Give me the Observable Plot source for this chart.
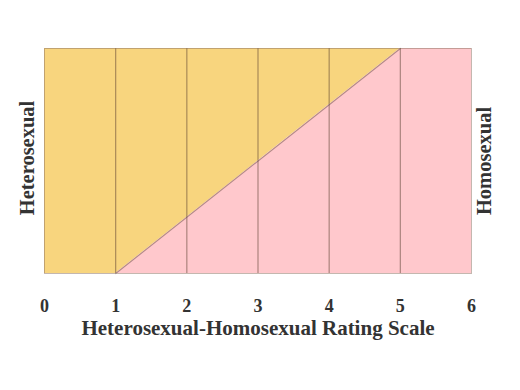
<!DOCTYPE html>
<html>
<head>
<meta charset="utf-8">
<script src="https://cdn.jsdelivr.net/npm/d3@7"></script>
<script src="https://cdn.jsdelivr.net/npm/@observablehq/plot@0.6"></script>
<style>
  html, body { margin: 0; padding: 0; background: #fff; }
  #chart svg { display: block; }
</style>
</head>
<body>
<div id="chart"></div>
<script>
// Kinsey scale ratings
const ratings = [0, 1, 2, 3, 4, 5, 6];
const dividers = [1, 2, 3, 4, 5];
// boundary between heterosexual (above) and homosexual (below) share
const boundaryX = [0, 1, 5, 6];
const boundaryY = [0, 0, 1, 1];
const axisTitle = "Heterosexual-Homosexual Rating Scale";
const leftLabel = "Heterosexual";
const rightLabel = "Homosexual";

const boundary = boundaryX.map((x, i) => ({x, y: boundaryY[i]}));
const font = "'Liberation Serif', 'Times New Roman', serif";

const chart = Plot.plot({
  width: 520,
  height: 390,
  marginLeft: 44,
  marginRight: 49,
  marginTop: 48,
  marginBottom: 117,
  style: {fontFamily: font, background: "#fff"},
  x: {domain: [0, 6]},
  y: {domain: [0, 1], axis: null},
  marks: [
    Plot.areaY(boundary, {x: "x", y1: "y", y2: 1, fill: "#f8d57e"}),
    Plot.areaY(boundary, {x: "x", y1: 0, y2: "y", fill: "#ffc8cc"}),
    Plot.line(boundary.slice(1, 3), {x: "x", y: "y", stroke: "#5a4030", strokeOpacity: 0.45, strokeWidth: 1.2}),
    Plot.ruleX(dividers, {y1: 0, y2: 1, stroke: "#5a4030", strokeOpacity: 0.5, strokeWidth: 1.2}),
    Plot.frame({stroke: "#8a7060", strokeOpacity: 0.5}),
    Plot.axisX(ratings, {ticks: ratings, tickSize: 0, tickPadding: 26, fontSize: 18, fontWeight: "bold", fill: "#333", label: null, tickFormat: d => String(d)}),
    Plot.text([axisTitle], {x: 3, y: 0, text: d => d, dy: 55, fontSize: 21, fontWeight: "bold", fill: "#333", lineAnchor: "middle"}),
    Plot.text([leftLabel], {x: 0, y: 0.5, text: d => d, rotate: -90, dx: -17, dy: -3, fontSize: 20.5, fontWeight: "bold", fill: "#333", lineAnchor: "middle"}),
    Plot.text([rightLabel], {x: 6, y: 0.5, text: d => d, rotate: -90, dx: 13, dy: 0, fontSize: 20.5, fontWeight: "bold", fill: "#333", lineAnchor: "middle"})
  ]
});
document.getElementById("chart").appendChild(chart);
</script>
</body>
</html>
